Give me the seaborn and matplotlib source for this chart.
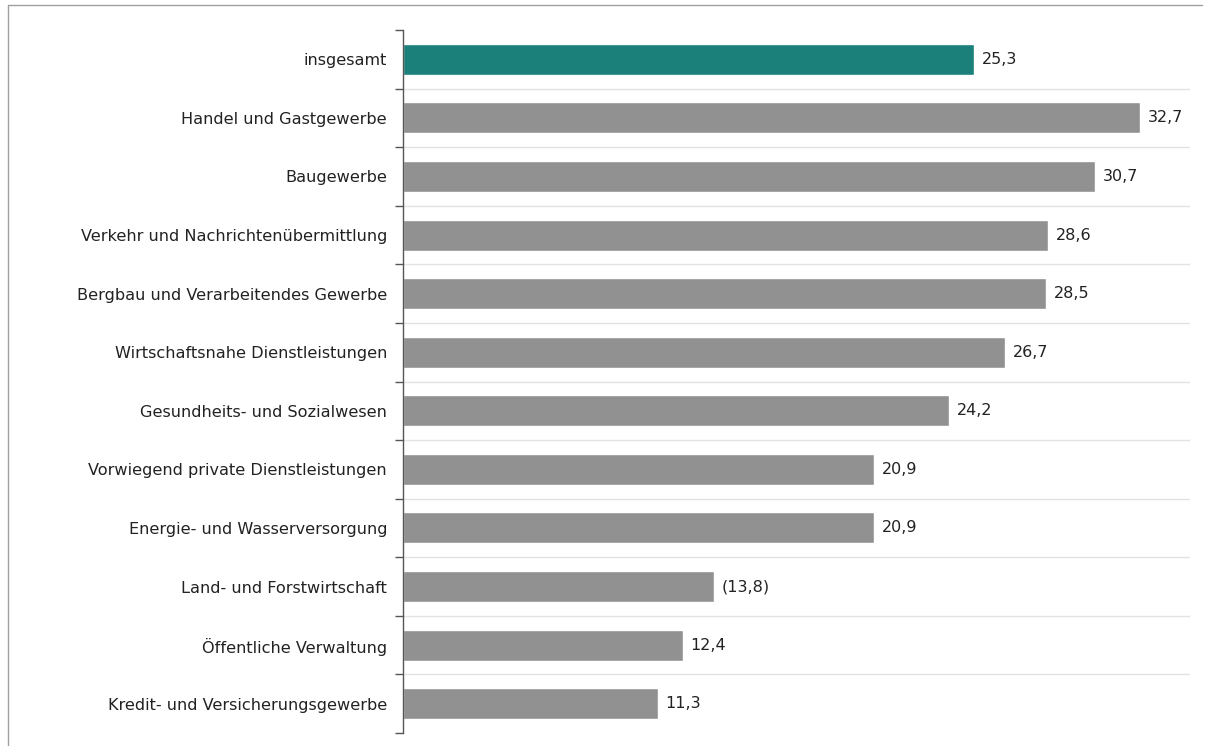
import matplotlib
matplotlib.use("Agg")
import matplotlib.pyplot as plt
import seaborn as sns
import pandas as pd

# --- Data ---
categories = [
    "insgesamt",
    "Handel und Gastgewerbe",
    "Baugewerbe",
    "Verkehr und Nachrichtenübermittlung",
    "Bergbau und Verarbeitendes Gewerbe",
    "Wirtschaftsnahe Dienstleistungen",
    "Gesundheits- und Sozialwesen",
    "Vorwiegend private Dienstleistungen",
    "Energie- und Wasserversorgung",
    "Land- und Forstwirtschaft",
    "Öffentliche Verwaltung",
    "Kredit- und Versicherungsgewerbe",
]
values = [25.3, 32.7, 30.7, 28.6, 28.5, 26.7, 24.2, 20.9, 20.9, 13.8, 12.4, 11.3]
value_labels = ["25,3", "32,7", "30,7", "28,6", "28,5", "26,7", "24,2",
                "20,9", "20,9", "(13,8)", "12,4", "11,3"]
groups = ["total"] + ["branch"] * (len(categories) - 1)

TEAL = "#1a8079"
GRAY = "#919191"

df = pd.DataFrame({"Branche": categories, "Wert": values, "Gruppe": groups})

sns.set_style("white")
plt.rcParams["font.family"] = ["DejaVu Sans"]

fig = plt.figure(figsize=(12.12, 7.46), dpi=100)
ax = fig.add_axes([403 / 1212, 1 - 733 / 746, (1190 - 403) / 1212, (733 - 30) / 746])

sns.barplot(data=df, y="Branche", x="Wert", hue="Gruppe",
            palette={"total": TEAL, "branch": GRAY}, width=0.53,
            dodge=False, legend=False, ax=ax, saturation=1)

ax.set_xlim(0, 34.9)
ax.set_ylim(len(categories) - 0.5, -0.5)

# value labels
for i, (v, lab) in enumerate(zip(values, value_labels)):
    ax.text(v + 0.35, i, lab, va="center", ha="left", fontsize=11.5, color="#222222")

# separators between categories
for b in range(1, len(categories)):
    ax.axhline(b - 0.5, color="#e3e3e3", lw=1, zorder=0)

ax.set_xlabel("")
ax.set_ylabel("")
ax.set_xticks([])
for s in ["top", "right", "bottom"]:
    ax.spines[s].set_visible(False)
ax.spines["left"].set_color("#555555")
ax.spines["left"].set_linewidth(1)

# tick marks at category boundaries, labels at centers
ax.set_yticks([b - 0.5 for b in range(len(categories) + 1)], minor=True)
ax.tick_params(axis="y", which="minor", left=True, length=6, color="#555555",
               width=1, direction="out")
ax.tick_params(axis="y", which="major", left=False, length=0, pad=11.5,
               labelsize=11.6, labelcolor="#222222")

# light frame (top and left edges)
fig.add_artist(plt.Line2D([8 / 1212, 1202 / 1212], [1 - 5 / 746] * 2,
                          transform=fig.transFigure, color="#a0a0a0", lw=1))
fig.add_artist(plt.Line2D([8 / 1212] * 2, [0, 1 - 5 / 746],
                          transform=fig.transFigure, color="#a0a0a0", lw=1))

fig.savefig("out.png", dpi=100)
